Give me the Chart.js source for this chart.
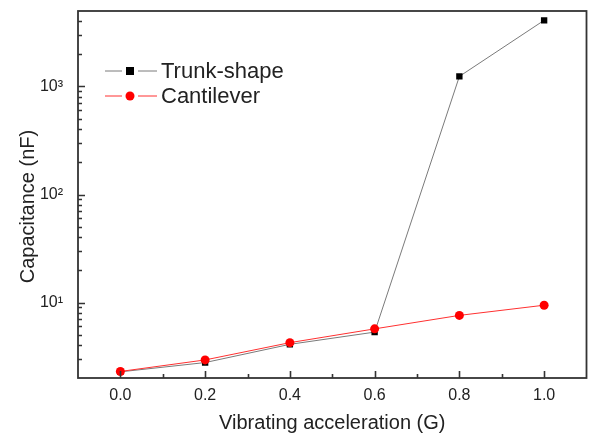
<!DOCTYPE html>
<html><head><meta charset="utf-8">
<script src="https://cdn.jsdelivr.net/npm/chart.js@4.4.0/dist/chart.umd.min.js"></script>
<style>html,body{margin:0;padding:0;background:#fff;}</style>
</head><body>
<canvas id="c" width="591" height="436" style="width:591px;height:436px;display:block"></canvas>
<script>
const accel = [0.0, 0.2, 0.4, 0.6, 0.8, 1.0];
const trunk = [2.28, 2.78, 4.1, 5.32, 1240, 4100];
const cantilever = [2.3, 2.94, 4.25, 5.7, 7.6, 9.44];
const xTicks = [0, 0.2, 0.4, 0.6, 0.8, 1.0];
const xMinor = [0.1, 0.3, 0.5, 0.7, 0.9];
const yTicks = [10, 100, 1000];
const yTickLabels = ['10\u00B9', '10\u00B2', '10\u00B3'];
const yMinor = [3,4,5,6,7,8,9,20,30,40,50,60,70,80,90,200,300,400,500,600,700,800,900,2000,3000,4000];
const yTitle = 'Capacitance (nF)';
const FONT = 'Liberation Sans, Arial, sans-serif';
const AX = '#333';

const framePlugin = {
  id: 'frame',
  afterDatasetsDraw(chart) {
    const {ctx, chartArea: a, scales: {x, y}} = chart;
    ctx.save();
    ctx.strokeStyle = AX;
    ctx.lineWidth = 1.6;
    ctx.beginPath();
    xTicks.forEach(v => { const p = Math.round(x.getPixelForValue(v)) + 0.5; ctx.moveTo(p, a.bottom); ctx.lineTo(p, a.bottom - 7); });
    xMinor.forEach(v => { const p = Math.round(x.getPixelForValue(v)) + 0.5; ctx.moveTo(p, a.bottom); ctx.lineTo(p, a.bottom - 4); });
    yTicks.forEach(v => { const p = Math.round(y.getPixelForValue(v)) + 0.5; ctx.moveTo(a.left, p); ctx.lineTo(a.left + 7, p); });
    yMinor.forEach(v => { const p = Math.round(y.getPixelForValue(v)) + 0.5; ctx.moveTo(a.left, p); ctx.lineTo(a.left + 4, p); });
    ctx.stroke();
    ctx.lineWidth = 1.8;
    ctx.strokeRect(a.left, a.top, a.right - a.left, a.bottom - a.top);
    const rows = [a.top + 60, a.top + 85];
    chart.data.datasets.forEach((ds, i) => {
      const yy = rows[i];
      const x0 = a.left + 27;
      ctx.strokeStyle = ds.borderColor;
      ctx.lineWidth = 1;
      ctx.beginPath();
      ctx.moveTo(x0, yy); ctx.lineTo(x0 + 17, yy);
      ctx.moveTo(x0 + 33, yy); ctx.lineTo(x0 + 52, yy);
      ctx.stroke();
      ctx.fillStyle = ds.pointBackgroundColor;
      const cx = x0 + 25;
      if (ds.pointStyle === 'rect') {
        ctx.fillRect(cx - 4, yy - 4, 8, 8);
      } else {
        ctx.beginPath(); ctx.arc(cx, yy, 4.5, 0, Math.PI * 2); ctx.fill();
      }
      ctx.fillStyle = '#222';
      ctx.font = '22px ' + FONT;
      ctx.textBaseline = 'middle';
      ctx.textAlign = 'left';
      ctx.fillText(ds.label, x0 + 56, yy + 1);
    });
    // y axis title
    ctx.translate(28, (a.top + a.bottom) / 2 + 12);
    ctx.rotate(-Math.PI / 2);
    ctx.fillStyle = '#222';
    ctx.font = '20px ' + FONT;
    ctx.textAlign = 'center';
    ctx.textBaseline = 'middle';
    ctx.fillText(yTitle, 0, 0);
    ctx.restore();
  }
};

new Chart(document.getElementById('c'), {
  type: 'line',
  data: {
    labels: accel,
    datasets: [
      {
        label: 'Trunk-shape',
        data: accel.map((v, i) => ({x: v, y: trunk[i]})),
        borderColor: '#7a7a7a', borderWidth: 1,
        pointStyle: 'rect', pointRadius: 4.5, pointBackgroundColor: '#000', pointBorderColor: '#000', pointBorderWidth: 0,
        order: 2, tension: 0
      },
      {
        label: 'Cantilever',
        data: accel.map((v, i) => ({x: v, y: cantilever[i]})),
        borderColor: '#ff3030', borderWidth: 1,
        pointStyle: 'circle', pointRadius: 4.5, pointBackgroundColor: '#ff0000', pointBorderColor: '#ff0000', pointBorderWidth: 0,
        order: 1, tension: 0
      }
    ]
  },
  options: {
    responsive: false, animation: false, devicePixelRatio: 1,
    layout: {padding: {top: 11, right: 2, left: 0, bottom: 0}},
    plugins: {legend: {display: false}, tooltip: {enabled: false}},
    scales: {
      x: {
        type: 'linear', min: -0.1, max: 1.1,
        afterBuildTicks: s => { s.ticks = xTicks.map(v => ({value: v})); },
        afterFit: s => { s.height = 58; s.paddingLeft = 0; s.paddingRight = 0; },
        ticks: {callback: v => Number(v).toFixed(1), font: {family: FONT, size: 16}, color: '#222', padding: 8, autoSkip: false, maxRotation: 0},
        grid: {display: false, drawTicks: false},
        border: {display: false},
        title: {display: true, text: 'Vibrating acceleration (G)', font: {family: FONT, size: 20}, color: '#222', padding: {top: 0, bottom: 1}}
      },
      y: {
        type: 'logarithmic', min: 2, max: 5000,
        afterBuildTicks: s => { s.ticks = yTicks.map(v => ({value: v})); },
        afterFit: s => { s.width = 78; s.paddingTop = 0; s.paddingBottom = 0; },
        ticks: {callback: v => { const i = yTicks.indexOf(v); return i >= 0 ? yTickLabels[i] : ''; }, font: {family: FONT, size: 16}, color: '#222', padding: 15, autoSkip: false},
        grid: {display: false, drawTicks: false},
        border: {display: false},
        title: {display: false}
      }
    }
  },
  plugins: [framePlugin]
});
</script>
</body></html>
